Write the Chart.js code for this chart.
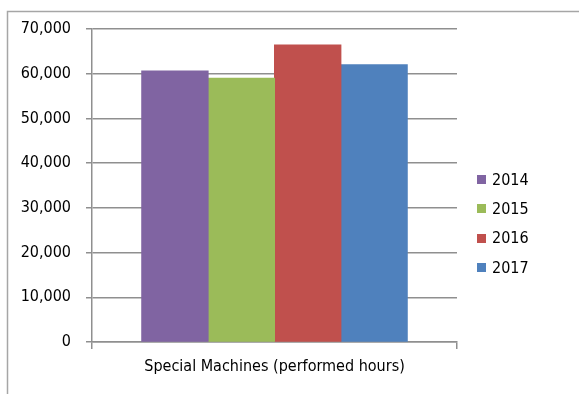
<!DOCTYPE html>
<html>
<head>
<meta charset="utf-8">
<script src="https://cdn.jsdelivr.net/npm/chart.js@4/dist/chart.umd.min.js"></script>
<style>
  html, body { margin: 0; padding: 0; background: #ffffff; overflow: hidden; }
  #wrap { width: 579px; height: 394px; position: relative; }
</style>
</head>
<body>
<div id="wrap"><canvas id="c" width="579" height="394"></canvas></div>
<script>
// Data
const categories = ['Special Machines (performed hours)'];
const years = ['2014', '2015', '2016', '2017'];
const hours2014 = [60600];
const hours2015 = [59000];
const hours2016 = [66400];
const hours2017 = [62000];
const yTicks = [0, 10000, 20000, 30000, 40000, 50000, 60000, 70000];

const seriesValues = [hours2014, hours2015, hours2016, hours2017];
const seriesColors = ['#8064A2', '#9BBB59', '#C0504D', '#4F81BD'];

const FONT = '"DejaVu Sans Condensed", "DejaVu Sans", sans-serif';
const GRID = '#8f8f8f';

// Outer frame around the chart object (open to the right and bottom)
const framePlugin = {
  id: 'frame',
  beforeDraw(chart) {
    const ctx = chart.ctx;
    ctx.save();
    ctx.fillStyle = '#ffffff';
    ctx.fillRect(0, 0, chart.width, chart.height);
    ctx.strokeStyle = '#a6a6a6';
    ctx.lineWidth = 1.5;
    ctx.lineCap = 'butt';
    ctx.beginPath();
    ctx.moveTo(7.5, chart.height);
    ctx.lineTo(7.5, 11.5);
    ctx.lineTo(chart.width, 11.5);
    ctx.stroke();
    ctx.restore();
  }
};

// Legend on the right: small square swatch + year
const sideLegend = {
  id: 'sideLegend',
  afterDraw(chart) {
    const ctx = chart.ctx;
    const x0 = 477, firstY = 179.5, step = 29.4, box = 9;
    ctx.save();
    ctx.font = '16px ' + FONT;
    ctx.textBaseline = 'middle';
    ctx.textAlign = 'left';
    chart.data.datasets.forEach((ds, i) => {
      const cy = firstY + i * step;
      ctx.fillStyle = ds.backgroundColor;
      ctx.fillRect(x0, Math.round(cy - box / 2), box, box);
      ctx.fillStyle = '#000000';
      ctx.fillText(ds.label, x0 + box + 6, cy + 1);
    });
    ctx.restore();
  }
};

new Chart(document.getElementById('c'), {
  type: 'bar',
  data: {
    labels: categories,
    datasets: years.map((y, i) => ({
      label: y,
      data: seriesValues[i],
      backgroundColor: seriesColors[i],
      borderWidth: 0,
      inflateAmount: 0.5,
      categoryPercentage: 0.7275,
      barPercentage: 1.0
    }))
  },
  options: {
    responsive: false,
    animation: false,
    devicePixelRatio: 1,
    layout: { padding: { left: 10, right: 122, top: 29, bottom: 0 } },
    plugins: {
      legend: { display: false },
      tooltip: { enabled: false }
    },
    scales: {
      x: {
        offset: true,
        grid: {
          display: true,
          drawOnChartArea: false,
          drawTicks: true,
          tickLength: 7,
          color: GRID,
          lineWidth: 1.5
        },
        border: { display: true, color: GRID, width: 1.5 },
        ticks: {
          color: '#000000',
          font: { family: FONT, size: 16 },
          padding: 8,
          maxRotation: 0
        },
        afterFit(scale) { scale.height = 52; }
      },
      y: {
        min: 0,
        max: 70000,
        afterBuildTicks(scale) { scale.ticks = yTicks.map(v => ({ value: v })); },
        grid: {
          color: GRID,
          lineWidth: 1.5,
          drawTicks: true,
          tickLength: 6
        },
        border: { display: true, color: GRID, width: 1.5 },
        ticks: {
          color: '#000000',
          font: { family: FONT, size: 16 },
          padding: 15,
          callback: v => v.toLocaleString('en-US')
        },
        afterFit(scale) { scale.width = 82; }
      }
    }
  },
  plugins: [framePlugin, sideLegend]
});
</script>
</body>
</html>
